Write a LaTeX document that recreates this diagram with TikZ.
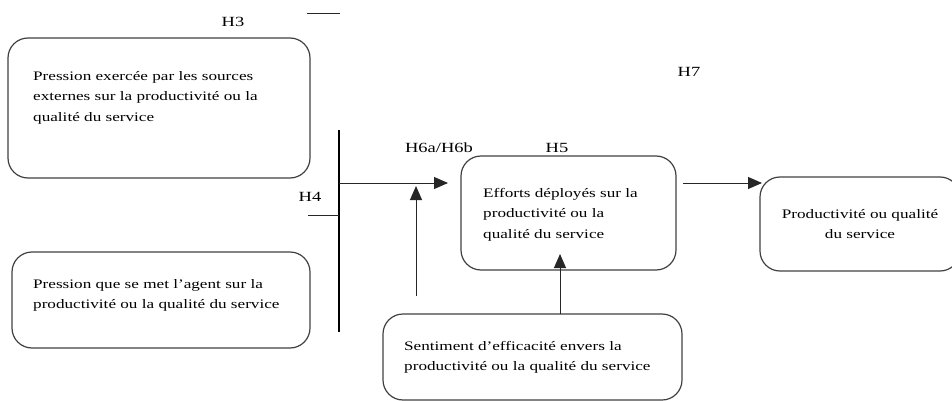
\documentclass[tikz,border=0pt]{standalone}
\usepackage{fontspec}
\setmainfont{Liberation Serif}[FakeStretch=1.32]
\usetikzlibrary{arrows.meta}
\begin{document}
\begin{tikzpicture}[x=1pt,y=-1pt,
  box/.style={draw=black!75,line width=1.2pt,rounded corners=20pt,inner sep=0pt},
  txt/.style={font=\fontsize{13}{20.5}\selectfont,align=left,inner sep=0pt,anchor=north west},
  lab/.style={font=\fontsize{14}{16}\selectfont,inner sep=0pt},
  conn/.style={draw=black!85,line width=1pt},
  arr/.style={conn,-{Triangle[length=14pt,width=12pt]}}]
\useasboundingbox (0,0) rectangle (952,401);
% boxes
\node[box,minimum width=302pt,minimum height=140pt] (b1) at (159,108) {};
\node[box,minimum width=298pt,minimum height=96pt] (b2) at (161,300) {};
\node[box,minimum width=215pt,minimum height=114pt] (b3) at (568.5,213) {};
\node[box,minimum width=200pt,minimum height=94pt] (b4) at (860,224) {};
\node[box,minimum width=299pt,minimum height=86pt] (b5) at (532.5,357) {};
% texts
\node[txt] (t1) at (33,71) {Pression exercée par les sources\\externes sur la productivité ou la\\qualité du service};
\node[txt] (t2) at (33,279) {Pression que se met l'agent sur la\\productivité ou la qualité du service};
\node[txt] (t3) at (483,188) {Efforts déployés sur la\\productivité ou la\\qualité du service};
\node[txt,align=center,anchor=north] (t4) at (860,209) {Productivité ou qualité\\du service};
\node[txt] (t5) at (404,341) {Sentiment d'efficacité envers la\\productivité ou la qualité du service};
% labels
\node[lab] (h3) at (233,22) {H3};
\node[lab] (h4) at (310,197) {H4};
\node[lab] (h6) at (439,148) {H6a/H6b};
\node[lab] (h5) at (557,148) {H5};
\node[lab] (h7) at (689,72) {H7};
% coordinates
\coordinate (barT) at (339,130);
\coordinate (barB) at (339,332);
\coordinate (barM) at (339,183);
\coordinate (barH4) at (339,215);
\coordinate (h4L) at (308,215);
\coordinate (arrEnd) at (448,183);
\coordinate (vS) at (416,296);
\coordinate (vE) at (416,186);
\coordinate (topL) at (307,14);
\coordinate (topR) at (340,14);
\coordinate (b3out) at (683,183);
\coordinate (b4in) at (762,183);
\coordinate (b5top) at (560,314);
\coordinate (b3bot) at (560,254);
% connectors
\draw[line width=1.8pt] (barT) -- (barB);
\draw[conn] (h4L) -- (barH4);
\draw[conn] (topL) -- (topR);
\draw[arr] (barM) -- (arrEnd);
\draw[arr] (vS) -- (vE);
\draw[arr] (b3out) -- (b4in);
\draw[arr] (b5top) -- (b3bot);
\end{tikzpicture}
\end{document}
